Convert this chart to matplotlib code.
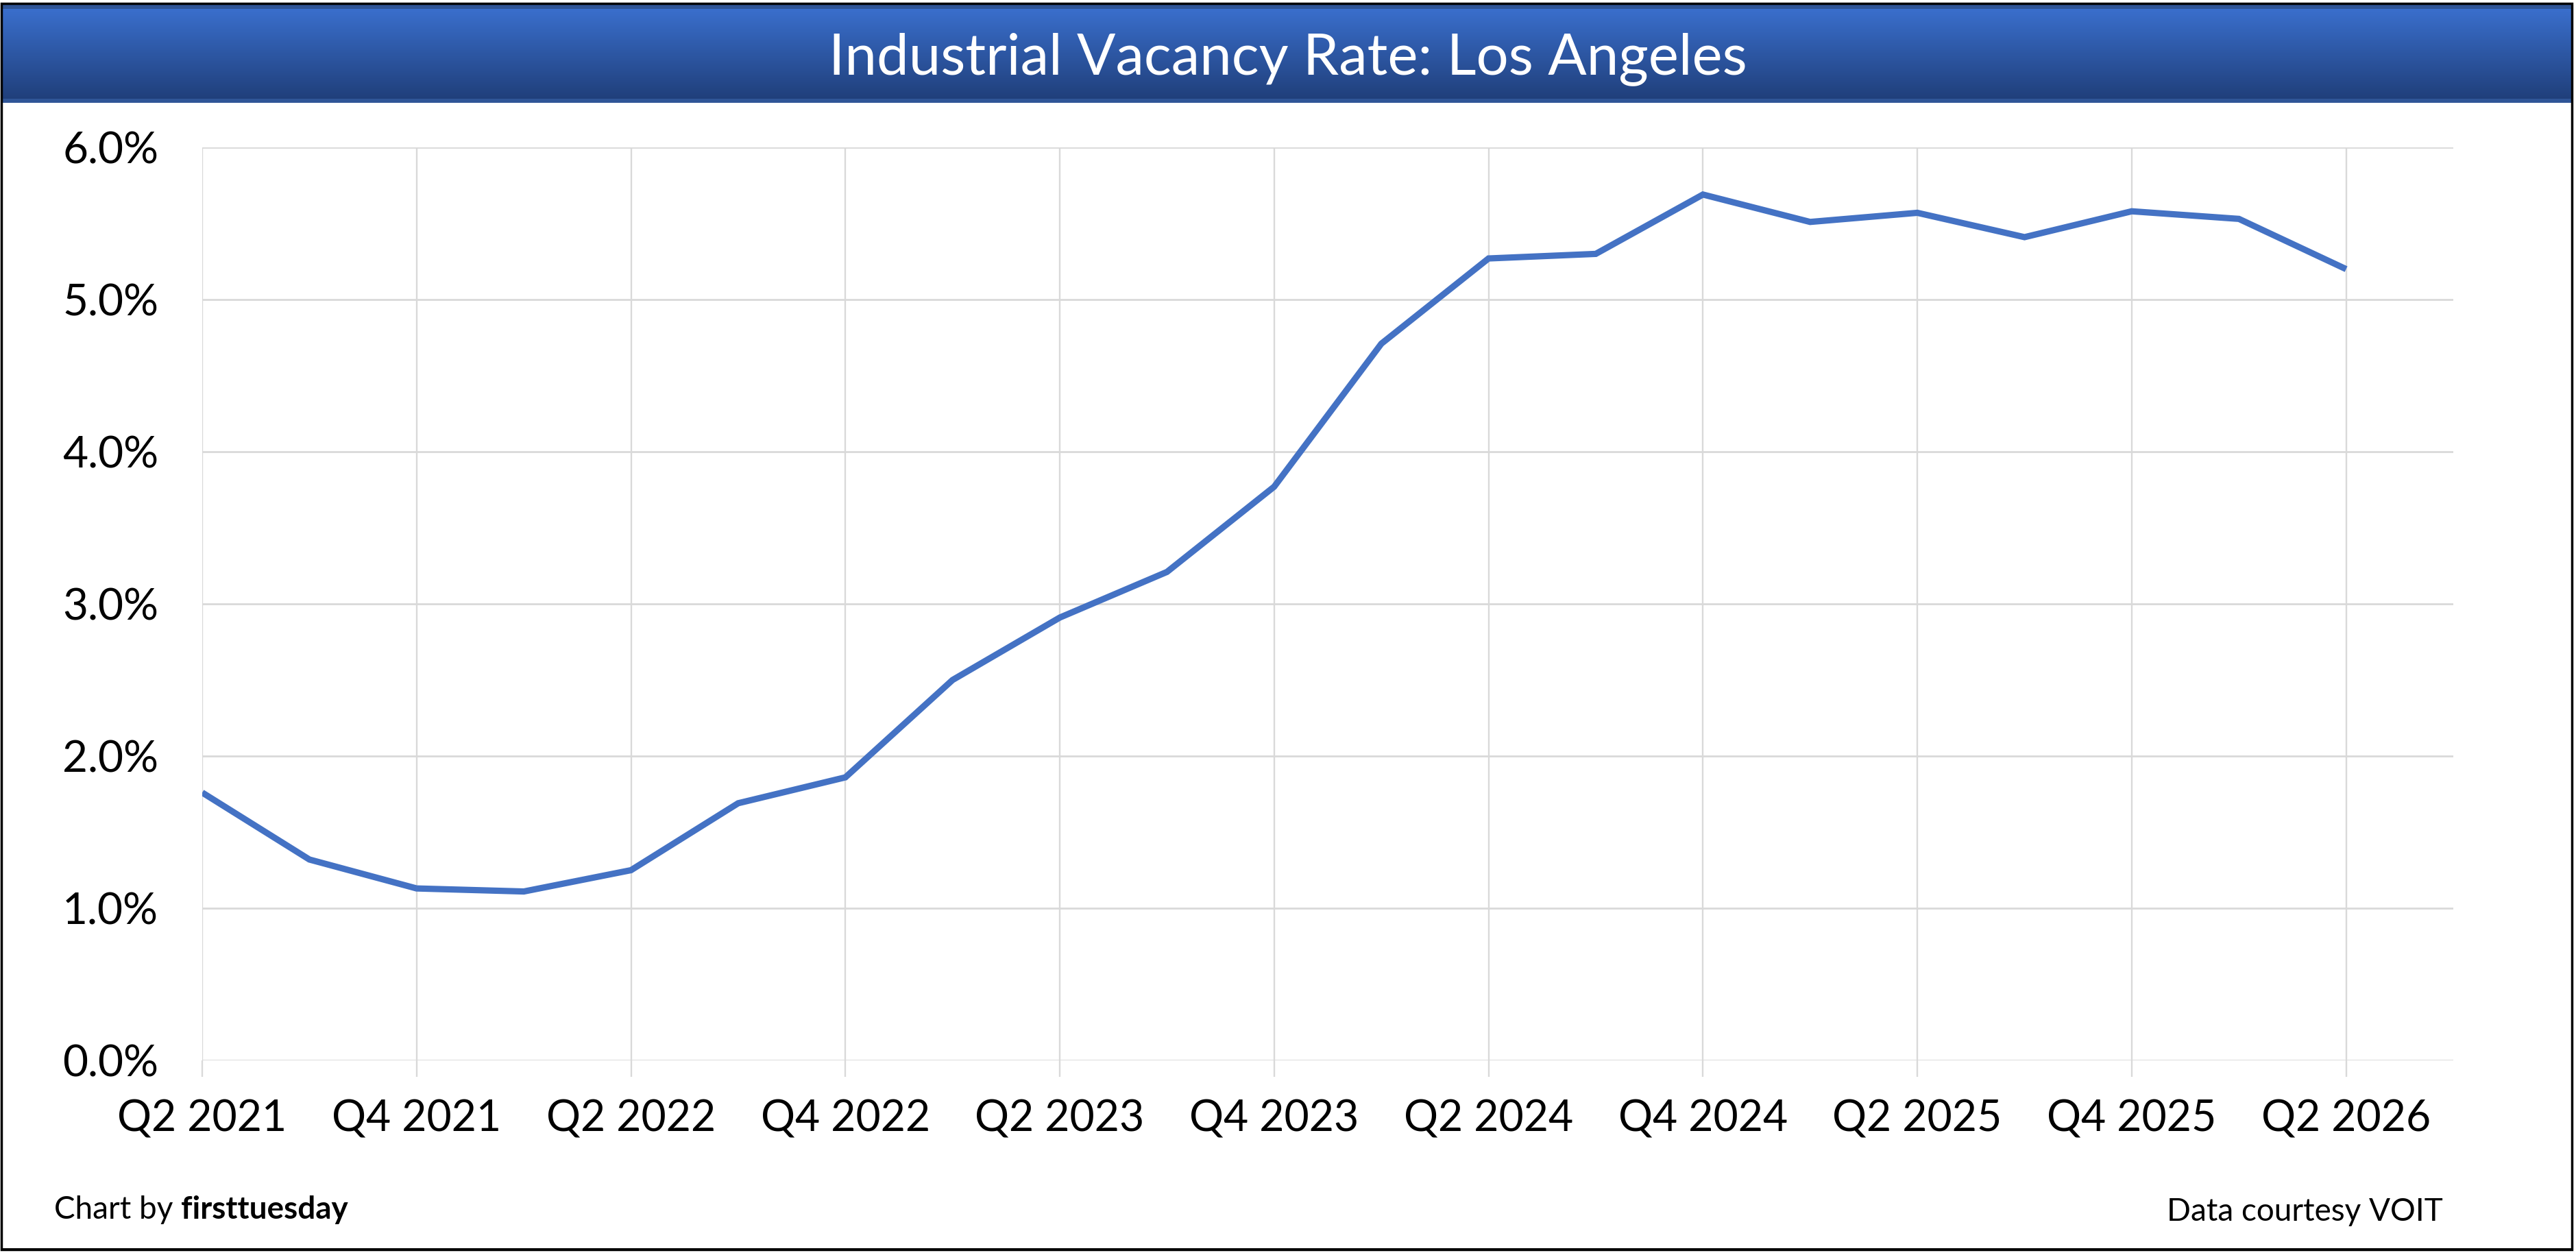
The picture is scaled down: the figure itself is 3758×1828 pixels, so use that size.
import numpy as np
import matplotlib
matplotlib.use("Agg")
import matplotlib.pyplot as plt
from matplotlib.patches import Rectangle
from matplotlib.ticker import FuncFormatter, FixedLocator

plt.rcParams['font.family'] = ['Lato', 'DejaVu Sans']

# ---- data ----
quarters = ["Q2 2021", "Q3 2021", "Q4 2021", "Q1 2022", "Q2 2022", "Q3 2022",
            "Q4 2022", "Q1 2023", "Q2 2023", "Q3 2023", "Q4 2023", "Q1 2024",
            "Q2 2024", "Q3 2024", "Q4 2024", "Q1 2025", "Q2 2025", "Q3 2025",
            "Q4 2025", "Q1 2026", "Q2 2026"]
vacancy = [1.76, 1.32, 1.13, 1.11, 1.25, 1.69, 1.86, 2.50, 2.91, 3.21, 3.77,
           4.71, 5.27, 5.30, 5.69, 5.51, 5.57, 5.41, 5.58, 5.53, 5.20]
yticks = [0, 1, 2, 3, 4, 5, 6]
title = "Industrial Vacancy Rate: Los Angeles"
credit_left = "Chart by "
credit_brand = "firsttuesday"
credit_right = "Data courtesy VOIT"

W, H = 3758, 1828
fig = plt.figure(figsize=(W / 100, H / 100), dpi=100)
fig.patch.set_facecolor("white")

# ---- title bar ----
bx0, bx1 = 4 / W, (W - 6) / W
by0, by1 = (H - 150) / H, (H - 7) / H
axb = fig.add_axes([bx0, by0, bx1 - bx0, by1 - by0])
top = np.array(matplotlib.colors.to_rgb("#3B71D0"))
bot = np.array(matplotlib.colors.to_rgb("#1F3D77"))
t = np.linspace(0, 1, 256)[:, None]
grad = top[None, :] * (1 - t) + bot[None, :] * t
axb.imshow(grad[:, None, :], aspect="auto", extent=(0, 1, 0, 1), interpolation="bilinear")
axb.add_patch(Rectangle((0, 0), 1, 0.04, transform=axb.transAxes, color="#2F5597", lw=0))
axb.add_patch(Rectangle((0, 0.96), 1, 0.04, transform=axb.transAxes, color="#2F5597", lw=0))
axb.set_xlim(0, 1)
axb.set_ylim(0, 1)
axb.axis("off")
fig.text(0.5, (H - 108) / H, title, color="white", fontsize=60,
         ha="center", va="baseline")

# ---- main axes ----
x = np.arange(len(quarters))
ax = fig.add_axes([295 / W, (H - 1547) / H, (3579 - 295) / W, (1547 - 215) / H])
ax.plot(x, np.array(vacancy) / 100, color="#4472C4", lw=6.6, solid_joinstyle="miter",
        solid_capstyle="butt", zorder=3)
ax.set_xlim(0, len(quarters))
ax.set_ylim(0, 0.06)
for s in ax.spines.values():
    s.set_visible(False)

ax.yaxis.set_major_locator(FixedLocator([v / 100 for v in yticks]))
ax.yaxis.set_major_formatter(FuncFormatter(lambda v, p: f"{v*100:.1f}%"))
ax.xaxis.set_major_locator(FixedLocator(x[::2]))
ax.set_xticklabels(quarters[::2])

ax.grid(axis="y", color="#D9D9D9", lw=2.0, zorder=1)
ax.grid(axis="x", color="#D9D9D9", lw=1.7, zorder=1)
ax.tick_params(axis="y", length=0, pad=46, labelsize=46, labelcolor="black")
ax.tick_params(axis="x", direction="out", length=17, width=1.7, color="#D9D9D9",
               pad=24, labelsize=45, labelcolor="black")

# ---- footer ----
t1 = fig.text(79 / W, (H - 1778) / H, credit_left, fontsize=33, ha="left", va="baseline")
fig.canvas.draw()
bb = t1.get_window_extent(renderer=fig.canvas.get_renderer())
fig.text(bb.x1 / W, (H - 1778) / H, credit_brand, fontsize=33, fontweight="bold",
         ha="left", va="baseline")
fig.text(3564 / W, (H - 1781) / H, credit_right, fontsize=33, ha="right", va="baseline")

# ---- outer border ----
fig.add_artist(Rectangle((2 / W, 5 / H), (W - 8) / W, (H - 10) / H,
                         transform=fig.transFigure, fill=False, ec="black", lw=2.5))
fig.add_artist(Rectangle((2 / W, 5 / H), (W - 8) / W, 2 / H,
                         transform=fig.transFigure, fill=True, fc="black", ec="none"))

fig.savefig("out.png", dpi=100, facecolor="white")
